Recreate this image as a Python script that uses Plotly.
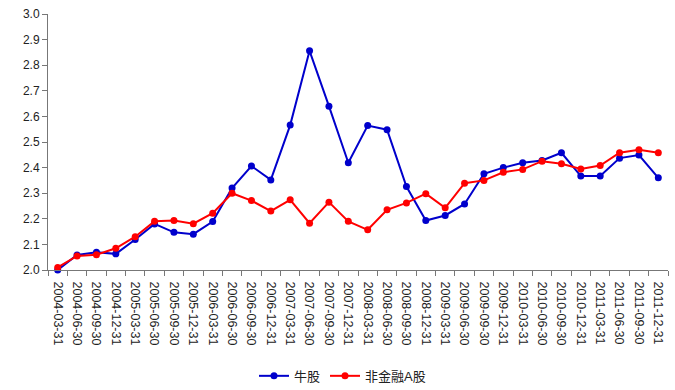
import plotly.graph_objects as go

dates = ["2004-03-31","2004-06-30","2004-09-30","2004-12-31",
         "2005-03-31","2005-06-30","2005-09-30","2005-12-31",
         "2006-03-31","2006-06-30","2006-09-30","2006-12-31",
         "2007-03-31","2007-06-30","2007-09-30","2007-12-31",
         "2008-03-31","2008-06-30","2008-09-30","2008-12-31",
         "2009-03-31","2009-06-30","2009-09-30","2009-12-31",
         "2010-03-31","2010-06-30","2010-09-30","2010-12-31",
         "2011-03-31","2011-06-30","2011-09-30","2011-12-31"]

bull = [2.00, 2.059, 2.069, 2.063, 2.119, 2.18, 2.147, 2.14,
        2.189, 2.32, 2.406, 2.352, 2.566, 2.856, 2.64, 2.419,
        2.564, 2.548, 2.326, 2.193, 2.213, 2.258, 2.376, 2.40,
        2.419, 2.428, 2.458, 2.367, 2.367, 2.437, 2.449, 2.36]

nonfin = [2.01, 2.055, 2.06, 2.085, 2.13, 2.19, 2.193, 2.181,
          2.222, 2.30, 2.271, 2.23, 2.274, 2.183, 2.265, 2.19,
          2.157, 2.235, 2.262, 2.298, 2.243, 2.339, 2.35, 2.382,
          2.393, 2.425, 2.415, 2.395, 2.408, 2.458, 2.47, 2.458]

yticks = [2.0, 2.1, 2.2, 2.3, 2.4, 2.5, 2.6, 2.7, 2.8, 2.9, 3.0]

fig = go.Figure()
fig.add_trace(go.Scatter(x=dates, y=bull, name="牛股", mode="lines+markers",
                         line=dict(color="#0000CC", width=2),
                         marker=dict(color="#0000CC", size=7),
                         cliponaxis=False))
fig.add_trace(go.Scatter(x=dates, y=nonfin, name="非金融A股", mode="lines+markers",
                         line=dict(color="#FF0000", width=2),
                         marker=dict(color="#FF0000", size=7),
                         cliponaxis=False))

fig.update_layout(
    width=675, height=390,
    margin=dict(l=48, r=7, t=14, b=120, autoexpand=False),
    paper_bgcolor="white", plot_bgcolor="white",
    font=dict(family="Liberation Sans, Arial, Noto Sans CJK SC", size=12, color="#222222"),
    showlegend=True,
    legend=dict(orientation="h", x=0.475, xanchor="center", y=-0.355, yanchor="top",
                font=dict(family="Liberation Sans, Noto Sans CJK SC", size=13, color="#222222"),
                itemwidth=30, tracegroupgap=0),
    xaxis=dict(type="category", range=[-0.5, len(dates) - 0.5],
               tickangle=90, tickson="boundaries",
               ticks="outside", ticklen=5, tickcolor="#777777",
               ticklabelstandoff=8,
               showline=True, linecolor="#777777", linewidth=1,
               showgrid=False, zeroline=False, automargin=False,
               tickfont=dict(size=12.5, color="#222222")),
    yaxis=dict(range=[2.0, 3.0], tickvals=yticks,
               ticktext=[f"{v:.1f}" for v in yticks],
               ticks="outside", ticklen=5, tickcolor="#777777",
               showline=True, linecolor="#777777", linewidth=1,
               showgrid=False, zeroline=False, automargin=False,
               tickfont=dict(size=12, color="#222222")),
)

fig.write_html("out.html", config={"displayModeBar": False},
               post_script="document.body.style.margin='0';")
